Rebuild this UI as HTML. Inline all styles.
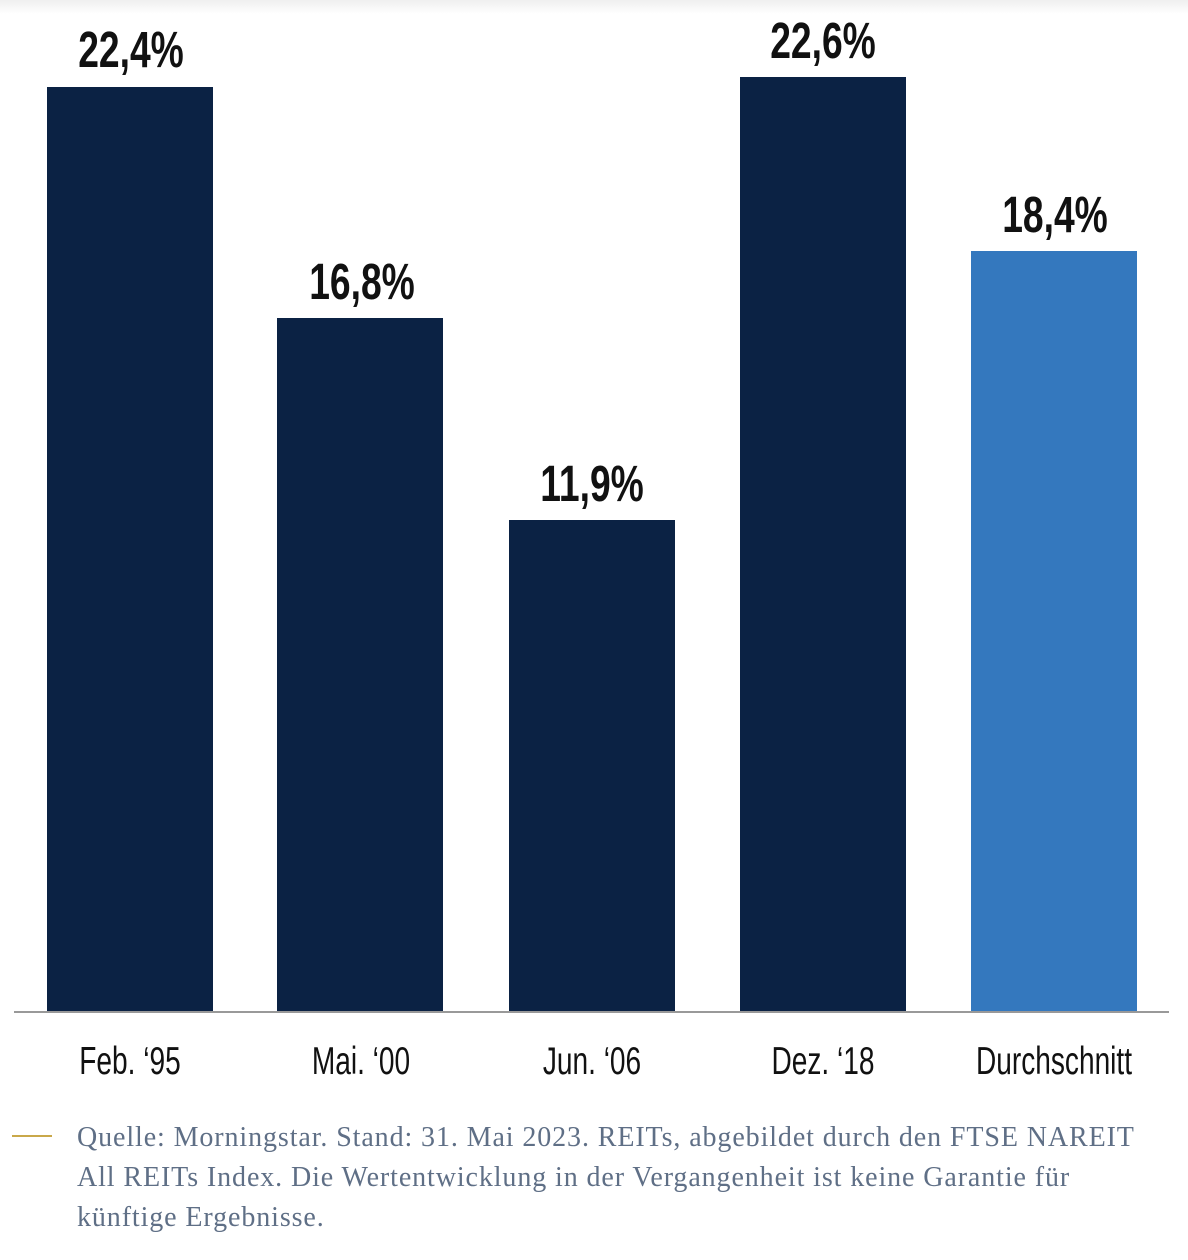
<!DOCTYPE html><html><head><style>
body{margin:0;width:1188px;height:1260px;background:#fff;position:relative;overflow:hidden;font-family:"Liberation Sans",sans-serif}
.bar{position:absolute;bottom:248px;width:166px;background:#0b2244}
.v,.l{position:absolute;width:240px;text-align:center;transform:scaleX(0.73);color:#111}
.v{font-weight:bold;font-size:51px;line-height:48px}
.l{font-size:39px;line-height:40px;top:1042px;transform:scaleX(0.72)}
.src{position:absolute;left:77px;top:1118px;width:1100px;font-family:"Liberation Serif",serif;font-size:28px;line-height:40px;color:#5f6f86;letter-spacing:0.9px;white-space:nowrap}
</style></head><body>
<div style="position:absolute;top:0;left:0;width:1188px;height:14px;background:linear-gradient(#efefef,#fff)"></div>
<div class="bar" style="left:47px;top:87px"></div>
<div class="bar" style="left:277px;top:318px"></div>
<div class="bar" style="left:509px;top:520px"></div>
<div class="bar" style="left:740px;top:77px"></div>
<div class="bar" style="left:971px;top:251px;background:#3478be"></div>
<div style="position:absolute;left:14px;top:1011px;width:1155px;height:2px;background:#999"></div>
<div class="v" style="left:11px;top:26px">22,4%</div>
<div class="v" style="left:242px;top:258px">16,8%</div>
<div class="v" style="left:472px;top:460px">11,9%</div>
<div class="v" style="left:703px;top:17px">22,6%</div>
<div class="v" style="left:935px;top:191px">18,4%</div>
<div class="l" style="left:10px">Feb. ‘95</div>
<div class="l" style="left:241px">Mai. ‘00</div>
<div class="l" style="left:472px">Jun. ‘06</div>
<div class="l" style="left:703px">Dez. ‘18</div>
<div class="l" style="left:934px">Durchschnitt</div>
<div style="position:absolute;left:12px;top:1135px;width:40px;height:2px;background:#c9a84a"></div>
<div class="src">Quelle: Morningstar. Stand: 31. Mai 2023. REITs, abgebildet durch den FTSE NAREIT<br>All REITs Index. Die Wertentwicklung in der Vergangenheit ist keine Garantie für<br>künftige Ergebnisse.</div>
</body></html>
